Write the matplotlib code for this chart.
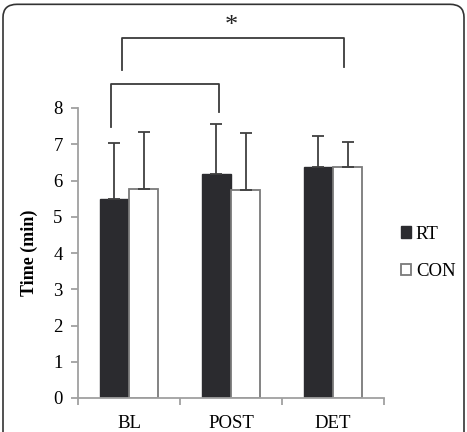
import matplotlib.pyplot as plt
import numpy as np
from matplotlib.patches import FancyBboxPatch

# data
groups = ["BL", "POST", "DET"]
rt_mean = [5.48, 6.18, 6.37]
rt_err = [1.55, 1.38, 0.86]
con_mean = [5.76, 5.75, 6.37]
con_err = [1.59, 1.57, 0.68]

plt.rcParams["font.family"] = ["Liberation Serif", "DejaVu Serif"]

fig = plt.figure(figsize=(4.67, 4.32), dpi=100)
ax = fig.add_axes([78 / 467, 34 / 432, 306 / 467, 290 / 432])

x = np.arange(len(groups))
w = 0.285
err_kw = dict(ecolor="#404040", elinewidth=1.3, capsize=4, capthick=1.3)
ax.bar(x - w / 2, rt_mean, w, color="#2b2b2f", edgecolor="#2b2b2f",
       yerr=[np.zeros(3), rt_err], error_kw=err_kw, label="RT", zorder=2)
ax.bar(x + w / 2, con_mean, w, color="white", edgecolor="#7a7a7a", linewidth=1.3,
       yerr=[np.zeros(3), con_err], error_kw=err_kw, label="CON", zorder=2)

ax.set_xlim(-0.5, 2.5)
ax.set_ylim(0, 8)
ax.set_yticks(range(9))
ax.set_xticks(x)
ax.set_xticklabels(groups)
ax.set_xticks([-0.5, 0.5, 1.5, 2.5], minor=True)
ax.tick_params(axis="x", which="major", length=0, labelsize=13.5, pad=12)
ax.tick_params(axis="x", which="minor", length=5, color="#a0a0a0", width=1.3)
ax.tick_params(axis="y", length=5, color="#a0a0a0", width=1.3, labelsize=13.5, pad=6)
for s in ["top", "right"]:
    ax.spines[s].set_visible(False)
for s in ["left", "bottom"]:
    ax.spines[s].set_color("#a0a0a0")
    ax.spines[s].set_linewidth(1.3)
ax.set_ylabel("Time (min)", fontsize=13, fontweight="bold", labelpad=11)

# significance brackets
lc = "#3a3a3a"
ax.plot([-0.18, -0.18, 0.88, 0.88], [7.48, 8.66, 8.66, 7.89], color=lc, lw=1.3, clip_on=False)
ax.plot([-0.07, -0.07, 2.11, 2.11], [9.05, 9.93, 9.93, 9.13], color=lc, lw=1.3, clip_on=False)
ax.text(1.0, 10.25, "*", ha="center", va="center", fontsize=19, color="#222222")

leg = ax.legend(loc="center left", bbox_to_anchor=(1.0, 0.5), frameon=False,
                fontsize=13.5, handlelength=0.55, handleheight=0.55, handletextpad=0.25,
                labelspacing=1.1, borderaxespad=0.5)

# rounded outer frame
frame = FancyBboxPatch((3 / 467, -0.05), 461 / 467, 1.04, boxstyle="round,pad=0,rounding_size=0.03",
                       transform=fig.transFigure, fill=False, edgecolor="#333333", lw=1.2)
fig.patches.append(frame)

fig.savefig("out.png", dpi=100)
